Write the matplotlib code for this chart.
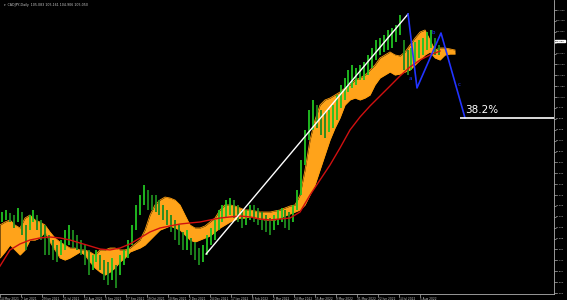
import numpy as np
import matplotlib
matplotlib.use("Agg")
import matplotlib.pyplot as plt

# ---------------- data ----------------
PX_PER_BAR = 21 / 16.0   # horizontal scale of the reference (bars per label = 16)

# sampled candle ranges (one sample every 3 bars)
high = [90.80, 90.97, 90.72, 90.55, 91.14, 90.80, 89.72, 90.55, 90.97, 90.55,
        90.14, 89.72, 88.89, 88.47, 88.05, 88.47, 89.30, 89.72, 89.30, 88.89,
        88.47, 88.05, 87.64, 87.22, 87.64, 87.22, 86.80, 86.64, 86.97, 86.39,
        87.22, 87.64, 88.47, 89.72, 91.39, 92.22, 93.05, 92.64, 92.22, 92.22,
        91.80, 91.39, 90.97, 90.55, 90.14, 89.72, 89.14, 89.30, 88.64, 88.30,
        87.80, 88.05, 88.89, 89.47, 90.14, 90.97, 91.39, 91.80, 91.97, 91.80,
        91.39, 90.97, 90.97, 91.39, 91.39, 91.14, 90.80, 90.55, 90.30, 90.55,
        90.97, 91.14, 90.97, 90.80, 91.39, 92.64, 95.14, 97.64, 99.30, 100.14,
        99.72, 99.30, 99.14, 99.30, 99.72, 100.55, 101.39, 101.97, 102.64, 103.05,
        102.80, 103.05, 103.30, 103.89, 104.47, 105.14, 105.30, 105.55, 105.97, 106.14,
        106.39, 107.22, 105.14, 104.30, 104.47, 104.97, 105.14, 105.30, 105.80, 105.97,
        105.30, 104.72]
low = [89.97, 90.14, 89.97, 89.47, 89.97, 88.89, 87.64, 89.30, 89.97, 89.30,
       88.47, 87.22, 87.22, 86.80, 86.64, 87.22, 87.64, 88.05, 87.80, 87.64,
       87.22, 86.39, 85.55, 85.97, 86.64, 85.97, 85.14, 84.72, 85.14, 84.47,
       85.55, 86.39, 86.97, 88.05, 89.30, 90.55, 91.39, 90.97, 90.97, 90.80,
       90.55, 90.14, 89.72, 89.14, 88.47, 88.05, 87.64, 87.64, 87.22, 86.80,
       86.39, 86.64, 87.22, 88.05, 88.47, 89.30, 89.97, 90.30, 90.55, 90.30,
       89.97, 89.47, 89.72, 90.14, 89.97, 89.72, 89.30, 89.14, 88.89, 89.30,
       89.72, 89.97, 89.47, 89.30, 89.97, 90.97, 92.22, 94.72, 96.80, 97.64,
       97.80, 97.22, 96.97, 97.47, 97.80, 98.47, 99.47, 100.14, 100.80, 101.14,
       101.39, 101.80, 101.80, 102.22, 102.80, 103.47, 103.89, 104.14, 104.30, 104.47,
       104.97, 105.55, 102.64, 102.22, 102.64, 103.30, 103.64, 103.89, 104.30, 104.47,
       103.89, 103.89]

# Ichimoku cloud edges (one sample every 5 px of the reference)
span_top = [89.72, 89.97, 90.14, 89.72, 89.47, 90.30, 90.55, 90.14, 89.97, 89.72,
            89.14, 88.64, 88.30, 88.05, 87.80, 87.80, 87.64, 87.64, 87.47, 87.22,
            87.64, 87.64, 87.80, 87.80, 87.64, 87.64, 87.80, 88.14, 88.47, 89.30,
            90.55, 91.39, 91.80, 92.05, 91.97, 91.80, 91.39, 90.55, 89.72, 89.47,
            89.47, 89.64, 89.97, 90.30, 90.97, 91.39, 91.39, 91.30, 91.14, 90.97,
            90.97, 90.89, 90.80, 90.80, 90.80, 90.89, 90.97, 91.14, 91.30, 91.39,
            92.22, 94.30, 96.80, 98.47, 99.72, 100.14, 100.30, 100.55, 100.80, 101.14,
            101.39, 101.80, 101.97, 102.22, 102.64, 103.05, 103.64, 103.89, 104.14, 103.89,
            103.80, 104.14, 104.72, 105.30, 105.80, 105.97, 105.14, 104.30, 104.47, 104.47,
            104.39, 104.30]
span_bot = [86.97, 87.47, 88.05, 87.64, 87.22, 87.64, 88.47, 88.47, 88.64, 89.14,
            88.30, 87.64, 86.97, 86.80, 86.97, 87.22, 87.47, 87.22, 86.64, 86.14,
            85.80, 85.55, 85.80, 86.14, 86.64, 86.97, 87.47, 87.64, 87.80, 88.05,
            88.47, 88.89, 89.30, 89.47, 89.64, 89.47, 89.30, 88.89, 88.47, 88.30,
            88.47, 88.64, 88.80, 89.14, 89.47, 89.72, 89.97, 90.14, 90.30, 90.30,
            90.39, 90.30, 90.22, 90.14, 90.14, 90.14, 90.30, 90.47, 90.64, 90.80,
            90.97, 91.39, 92.22, 93.05, 94.30, 95.55, 96.80, 97.80, 98.64, 99.72,
            100.14, 100.30, 100.14, 100.30, 100.55, 101.39, 101.97, 102.22, 102.47, 102.22,
            102.30, 102.47, 102.64, 103.05, 103.47, 103.89, 104.14, 103.64, 103.47, 103.89,
            103.97, 103.97]

# red moving average (one sample every 10 px of the reference)
ma = [86.30, 87.64, 88.14, 88.47, 88.64, 88.72, 88.64, 88.47, 88.22, 87.97,
      87.72, 87.64, 87.80, 88.14, 88.64, 89.14, 89.47, 89.64, 89.80, 89.89,
      89.97, 90.14, 90.30, 90.39, 90.47, 90.39, 90.22, 90.14, 90.22, 90.30,
      90.80, 92.22, 93.47, 94.72, 96.14, 97.64, 98.72, 99.64, 100.47, 101.30,
      102.14, 102.89, 103.47, 103.89, 104.22]

# drawn objects (bar index, price)
trend_bars = [157.0, 310.9]
trend_prices = [87.30, 107.30]
wave_bars = [310.9, 317.7, 336.0, 354.3]
wave_prices = [107.30, 101.14, 105.72, 98.64]
fib_level = 98.64
fib_start_bar = 350.5
current_price = 105.05

date_labels = ["14 May 2021", "7 Jun 2021", "29 Jun 2021", "21 Jul 2021", "12 Aug 2021",
               "3 Sep 2021", "27 Sep 2021", "19 Oct 2021", "10 Nov 2021", "2 Dec 2021",
               "24 Dec 2021", "17 Jan 2022", "8 Feb 2022", "2 Mar 2022", "24 Mar 2022",
               "15 Apr 2022", "9 May 2022", "31 May 2022", "22 Jun 2022", "14 Jul 2022",
               "5 Aug 2022"]
price_ticks = [107.635, 106.728, 105.821, 104.914, 104.007, 103.100, 102.193, 101.286,
               100.379, 99.472, 98.565, 97.658, 96.751, 95.844, 94.937, 94.030, 93.123,
               92.216, 91.309, 90.402, 89.495, 88.588, 87.681, 86.774, 85.867, 84.960,
               84.053]

# ---------------- figure ----------------
W, H = 567, 300
fig = plt.figure(figsize=(W / 100, H / 100), dpi=100, facecolor="black")
ax = fig.add_axes([0, 6 / H, 554 / W, 294 / H], facecolor="black")

xmax = 554 / PX_PER_BAR
ax.set_xlim(0, xmax)
ax.set_ylim(108.47 - 294 / 12.0, 108.47)

# cloud
cloud_x = np.arange(len(span_top)) * 5 / PX_PER_BAR
ax.fill_between(cloud_x, span_bot, span_top, color="#FFA31A", linewidth=0, zorder=2)
ax.plot(cloud_x, span_top, color="#FF9E0F", lw=0.6, zorder=2)
ax.plot(cloud_x, span_bot, color="#FF9E0F", lw=0.6, zorder=2)

# candles
cx = np.arange(len(high)) * 3 + 1.5
mid = (np.array(high) + np.array(low)) / 2
cols = ["#22C322" if (i == 0 or mid[i] >= mid[i - 1]) else "#1E8C1E" for i in range(len(mid))]
ax.vlines(cx, low, high, colors=cols, lw=1.3, zorder=3)

# moving average
ma_x = np.arange(len(ma)) * 10 / PX_PER_BAR
ax.plot(ma_x, ma, color="#D01010", lw=1.0, zorder=4)

# trend line and wave
ax.plot(trend_bars, trend_prices, color="white", lw=1.0, zorder=5)
ax.plot(wave_bars, wave_prices, color="#2233FF", lw=1.2, zorder=5)
for lab, bx, py in [("a", 313.0, 101.9), ("b", 330.0, 105.8), ("c", 349.7, 101.4)]:
    ax.text(bx, py, lab, color="#2233FF", fontsize=4.0, ha="center", va="center", zorder=6)

# fib line
ax.hlines(fib_level, fib_start_bar, xmax, color="white", lw=1.2, zorder=5)
ax.text(fib_start_bar + 4, fib_level + 0.25, "38.2%", color="white", fontsize=7.5,
        ha="left", va="bottom", zorder=6)

# axes styling
for s in ["top", "left"]:
    ax.spines[s].set_visible(False)
for s in ["right", "bottom"]:
    ax.spines[s].set_color("#B0B0B0")
    ax.spines[s].set_linewidth(0.6)

ax.yaxis.tick_right()
ax.set_yticks(price_ticks)
ylabels = [("" if abs(v - current_price) < 0.5 else f"{v:.3f}") for v in price_ticks]
ax.set_yticklabels(ylabels, fontsize=1.7)
ax.tick_params(axis="y", colors="#B0B0B0", length=1.2, width=0.5, pad=0.3, labelcolor="#C8C8C8")

date_pos = np.arange(len(date_labels)) * 16
ax.set_xticks(date_pos)
ax.set_xticklabels(date_labels, fontsize=2.1, ha="left")
ax.tick_params(axis="x", colors="#B0B0B0", length=2, width=0.5, pad=0.3, labelcolor="#C8C8C8")

# current price tag
ax.annotate(f"{current_price:.3f}", xy=(1.0, current_price), xycoords=("axes fraction", "data"),
            xytext=(0.8, 0), textcoords="offset points", fontsize=1.7, color="black",
            va="center", ha="left",
            bbox=dict(boxstyle="square,pad=0.25", fc="white", ec="white"), annotation_clip=False)

fig.text(4 / W, 1 - 5 / H, "\u25be  CADJPY,Daily  105.083 105.161 104.906 105.050",
         color="#C8C8C8", fontsize=2.3, va="center", ha="left")

fig.savefig("out.png", dpi=100, facecolor="black")
